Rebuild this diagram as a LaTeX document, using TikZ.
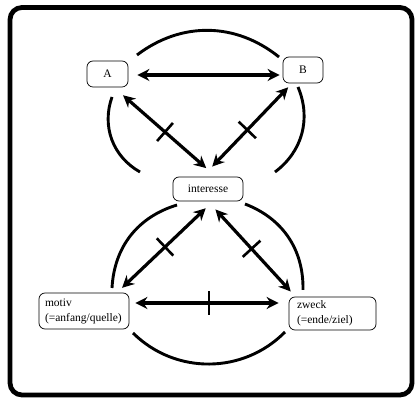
\documentclass[tikz,border=0pt]{standalone}
\usepackage{fontspec}
\setmainfont{Liberation Serif}
\usetikzlibrary{arrows.meta,decorations.markings}

\begin{document}
\begin{tikzpicture}[x=1pt,y=1pt,
    box/.style={draw, rounded corners=6pt, line width=0.7pt, inner sep=0pt,
      font=\fontsize{11.5}{15}\selectfont},
    link/.style={line width=3.2pt,
      {Stealth[length=12pt,width=12pt]}-{Stealth[length=12pt,width=12pt]}},
    crossed/.style={postaction={decorate, decoration={markings,
      mark=at position 0.5 with {\draw[-, shorten <=0pt, shorten >=0pt, line width=2.6pt] (0,-12pt) -- (0,12pt);}}}},
    ring/.style={line width=2.9pt}]
  \useasboundingbox (0,0) rectangle (420,404);
  % outer frame
  \draw[line width=4.8pt, rounded corners=12pt] (10,396.5) rectangle (412,9);
  % upper nodes
  \node[box, minimum width=41pt, minimum height=26pt] (A) at (107.5,330) {A};
  \node[box, minimum width=40pt, minimum height=26pt] (B) at (303,334) {B};
  \node[box, minimum width=70pt, minimum height=24pt] (interesse) at (208,215) {interesse};
  % lower nodes
  \node[box, text width=78pt, inner xsep=6pt, minimum height=36pt, align=left]
    (motiv) at (84,93) {motiv\\(=anfang/quelle)};
  \node[box, text width=71pt, inner xsep=8pt, minimum height=33pt, align=left]
    (zweck) at (332.5,90.5) {zweck\\(=ende/ziel)};
  % arcs round the upper triangle
  \draw[ring] (137,349) to[bend left=38] (279,347);
  \draw[ring] (140,232) to[bend left=40] (112,307);
  \draw[ring] (298,317) to[bend left=38] (275,232);
  % arcs round the lower triangle
  \draw[ring] (112,116) to[bend left=35] (177,199);
  \draw[ring] (245,200) to[bend left=35] (303,114);
  \draw[ring] (133,71) to[bend right=45] (285,72);
  % arrows
  \draw[link, shorten <=9pt, shorten >=3pt] ([yshift=-1pt]A.east) -- ([yshift=-1pt]A.east -| B.west);
  \draw[link, crossed, shorten <=12pt, shorten >=13pt] ([xshift=6.5pt]A.south) -- ([xshift=8pt]interesse.north);
  \draw[link, crossed, shorten <=5.5pt, shorten >=14pt] ([xshift=-11pt]B.south) -- ([xshift=-5.5pt]interesse.north);
  \draw[link, crossed, shorten <=10pt, shorten >=7pt] ([xshift=5pt]interesse.south) -- ([xshift=33pt]motiv.north);
  \draw[link, crossed, shorten <=11pt, shorten >=7pt] (interesse.south) -- ([xshift=-37pt]zweck.north);
  \draw[link, crossed, shorten <=6pt, shorten >=10pt] ([yshift=8pt]motiv.east) -- ([yshift=8pt]motiv.east -| zweck.west);
\end{tikzpicture}
\end{document}
